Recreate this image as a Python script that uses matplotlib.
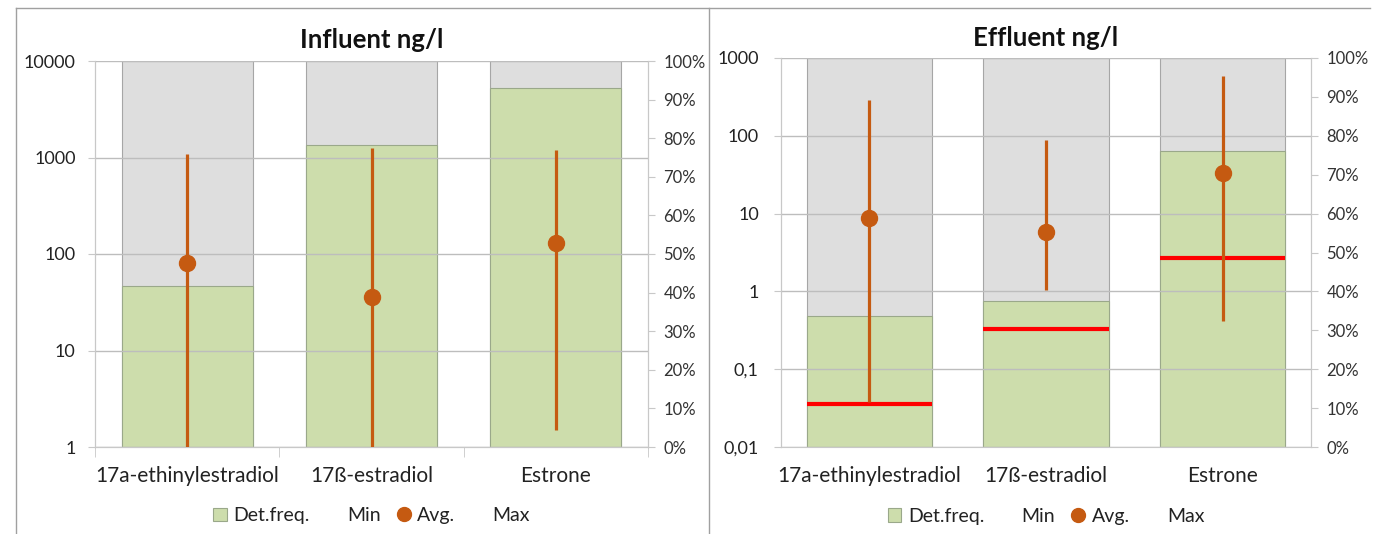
import numpy as np
import matplotlib
matplotlib.use('Agg')
import matplotlib.pyplot as plt
from matplotlib.patches import Patch
from matplotlib.lines import Line2D
from matplotlib.ticker import FixedLocator

plt.rcParams['font.family'] = ['Lato', 'DejaVu Sans']

# data
categories = ['17a-ethinylestradiol', '17ß-estradiol', 'Estrone']

infl_detfreq = [41.7, 78.2, 93.0]          # %
infl_min = [1.0, 1.0, 1.5]                 # ng/l
infl_avg = [80, 36, 130]
infl_max = [1100, 1250, 1200]

effl_detfreq = [33.7, 37.5, 76.0]          # %
effl_min = [0.038, 1.04, 0.42]
effl_avg = [8.8, 5.8, 33]
effl_max = [290, 88, 580]
effl_limit = [0.036, 0.33, 2.7]            # red reference lines

infl_yticks = [1, 10, 100, 1000, 10000]
infl_ylabels = ['1', '10', '100', '1000', '10000']
effl_yticks = [0.01, 0.1, 1, 10, 100, 1000]
effl_ylabels = ['0,01', '0,1', '1', '10', '100', '1000']
pct_ticks = list(range(0, 101, 10))
pct_labels = [f'{p}%' for p in pct_ticks]

GREEN = '#CDDDAC'
GREY = '#DEDEDE'
ORANGE = '#C55A11'
RED = '#FF0000'
AXCOL = '#C8C8C8'
TXT = '#333333'
BAR_W = 0.71


def draw_panel(fig, rect, title, detfreq, vmin, vmax, vavg, yticks, ylabels,
               limit=None, cross_at_one=False, ylab_pad=9):
    x = np.arange(len(categories))
    ax = fig.add_axes(rect)            # percent axis (bars), ticks on right
    axl = ax.twinx()                   # log axis, drawn on top, ticks on left

    # bars: grey full-height background + green detection frequency
    ax.bar(x, [100] * len(x), width=BAR_W, color=GREY, edgecolor='#A6A6A6',
           linewidth=0.8, zorder=1)
    ax.bar(x, detfreq, width=BAR_W, color=GREEN, edgecolor='#9AA88A',
           linewidth=0.8, zorder=2)
    ax.set_ylim(0, 100)
    ax.set_xlim(-0.5, len(x) - 0.5)
    ax.yaxis.set_ticks_position('right')
    ax.set_yticks(pct_ticks)
    ax.set_yticklabels(pct_labels)
    ax.tick_params(axis='y', length=5, color=AXCOL, labelsize=12,
                   labelcolor=TXT, pad=6)

    # log axis
    axl.set_yscale('log')
    axl.set_ylim(yticks[0], yticks[-1])
    axl.yaxis.set_ticks_position('left')
    axl.set_yticks(yticks)
    axl.set_yticklabels(ylabels)
    axl.yaxis.set_minor_locator(FixedLocator([]))
    axl.tick_params(axis='y', length=5, color=AXCOL, labelsize=13,
                    labelcolor='#222222', pad=ylab_pad)
    axl.grid(axis='y', color='#BDBDBD', linewidth=1.0, zorder=0)

    # min-max line and average marker
    axl.vlines(x, vmin, vmax, color=ORANGE, linewidth=2.3, zorder=4)
    axl.plot(x, vavg, 'o', color=ORANGE, markersize=11.5, zorder=5)
    if limit is not None:
        axl.hlines(limit, x - BAR_W / 2, x + BAR_W / 2, color=RED,
                   linewidth=3, zorder=3)

    # x axis: category labels from bar axis, boundary ticks
    ax.set_xticks(x)
    ax.set_xticklabels(categories)
    ax.xaxis.set_minor_locator(FixedLocator(np.arange(-0.5, len(x), 1.0)))
    ax.tick_params(axis='x', which='major', length=0, pad=14,
                   labelsize=15, labelcolor='#222222')
    if cross_at_one:
        ax.tick_params(axis='x', which='minor', length=0)
        axl.spines['bottom'].set_position(('data', 1))
        axl.spines['bottom'].set_visible(False)
        axl.tick_params(axis='x', which='minor', length=7, color=AXCOL,
                        direction='out', labelbottom=False)
        axl.tick_params(axis='x', which='major', length=0, labelbottom=False)
    else:
        ax.tick_params(axis='x', which='minor', length=7, color=AXCOL)
        axl.tick_params(axis='x', which='both', length=0, labelbottom=False)

    for a in (ax, axl):
        a.spines['top'].set_visible(False)
        for s in ('left', 'right', 'bottom'):
            a.spines[s].set_color(AXCOL)

    axl.set_title(title, fontsize=18.5, fontweight='bold', color='#111111',
                  pad=9)

    handles = [Patch(facecolor=GREEN, edgecolor='#9AA88A', linewidth=0.8),
               Line2D([], [], linestyle='none'),
               Line2D([], [], linestyle='none', marker='o', color=ORANGE,
                      markersize=10),
               Line2D([], [], linestyle='none')]
    leg = axl.legend(handles, ['Det.freq.', 'Min', 'Avg.', 'Max'], ncol=4,
                     loc='center', bbox_to_anchor=(0.5, -0.178), frameon=False,
                     fontsize=14, handlelength=0.7, handleheight=0.7,
                     handletextpad=0.35, columnspacing=0.85)
    for t in leg.get_texts():
        t.set_color('#222222')
    return ax, axl


W, H = 1383, 534
fig = plt.figure(figsize=(W / 100, H / 100), dpi=100)
fig.patch.set_facecolor('white')

draw_panel(fig, [95 / W, 1 - 447 / H, 553 / W, 386 / H], 'Influent ng/l',
           infl_detfreq, infl_min, infl_max, infl_avg, infl_yticks,
           infl_ylabels, ylab_pad=9)
draw_panel(fig, [781 / W, 1 - 447 / H, 530 / W, 389 / H], 'Effluent ng/l',
           effl_detfreq, effl_min, effl_max, effl_avg, effl_yticks,
           effl_ylabels, limit=effl_limit, cross_at_one=True, ylab_pad=11)

# outer chart frames
frame = '#A0A0A0'
fig.add_artist(Line2D([16 / W, 1370 / W], [1 - 8 / H, 1 - 8 / H],
                      color=frame, linewidth=1))
fig.add_artist(Line2D([16 / W, 16 / W], [0, 1 - 8 / H], color=frame,
                      linewidth=1))
fig.add_artist(Line2D([709 / W, 709 / W], [0, 1 - 8 / H], color=frame,
                      linewidth=1))

plt.savefig('out.png', dpi=100, facecolor='white')
plt.close(fig)
